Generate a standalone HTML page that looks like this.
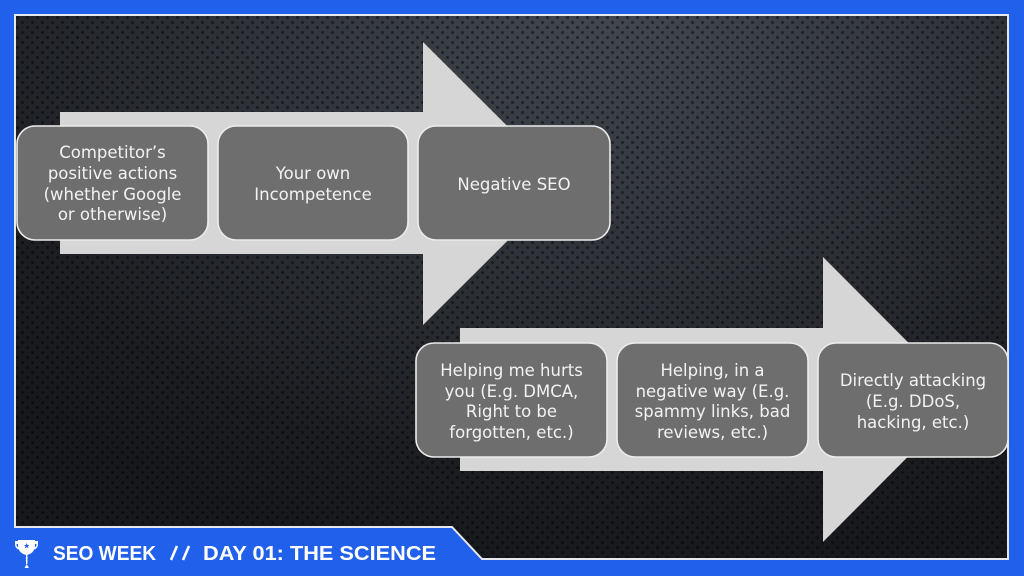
<!DOCTYPE html>
<html><head><meta charset="utf-8"><style>
html,body{margin:0;padding:0;width:1024px;height:576px;overflow:hidden;background:#2160ea;}
#bg{position:absolute;left:0;top:0;width:1024px;height:576px;
clip-path:polygon(15px 15px,1008px 15px,1008px 559px,482px 559px,452px 527px,15px 527px);
background:
radial-gradient(circle at 2.5px 2.5px, rgba(0,0,0,0.45) 0 1.3px, transparent 1.8px) 0 0/10px 10px,
radial-gradient(circle at 2.5px 2.5px, rgba(0,0,0,0.45) 0 1.3px, transparent 1.8px) 5px 5px/10px 10px,
radial-gradient(ellipse 80% 100% at 60% 0%, #43474f 0%, #363a41 30%, #282b30 60%, #1a1c20 85%, #16181b 100%);}
svg{position:absolute;left:0;top:0;}
</style></head><body>
<div id="bg"></div>
<svg width="1024" height="576" viewBox="0 0 1024 576" xmlns="http://www.w3.org/2000/svg">
<polygon points="15,15 1008,15 1008,559 482,559 452,527 15,527" fill="none" stroke="#e6e8ee" stroke-width="2"/>
<!-- arrows -->
<polygon points="60,112 423,112 423,42 565,183.5 423,325 423,254 60,254" fill="#d6d6d6"/>
<polygon points="460,328 823,328 823,257 965,399.5 823,542 823,471 460,471" fill="#d6d6d6"/>
<!-- boxes -->
<g fill="#6e6e6e" stroke="#ececec" stroke-width="1.6">
<rect x="17" y="126" width="191" height="114" rx="18"/>
<rect x="218" y="126" width="190" height="114" rx="18"/>
<rect x="418" y="126" width="192" height="114" rx="18"/>
<rect x="416" y="343" width="191" height="114" rx="18"/>
<rect x="617" y="343" width="191" height="114" rx="18"/>
<rect x="818" y="343" width="190" height="114" rx="18"/>
</g>
<g font-family="'DejaVu Sans', 'Liberation Sans', sans-serif" font-size="16.5" fill="#f2f2f2" text-anchor="middle">
<text x="112.5" y="158">Competitor’s</text>
<text x="112.5" y="179">positive actions</text>
<text x="112.5" y="200">(whether Google</text>
<text x="112.5" y="220">or otherwise)</text>
<text x="313" y="179">Your own</text>
<text x="313" y="200">Incompetence</text>
<text x="514" y="190">Negative SEO</text>
<text x="511.5" y="376">Helping me hurts</text>
<text x="511.5" y="397">you (E.g. DMCA,</text>
<text x="511.5" y="417">Right to be</text>
<text x="511.5" y="438">forgotten, etc.)</text>
<text x="712.5" y="376">Helping, in a</text>
<text x="712.5" y="397">negative way (E.g.</text>
<text x="712.5" y="417">spammy links, bad</text>
<text x="712.5" y="438">reviews, etc.)</text>
<text x="913" y="386">Directly attacking</text>
<text x="913" y="407">(E.g. DDoS,</text>
<text x="913" y="428">hacking, etc.)</text>
</g>
<!-- trophy -->
<g fill="#ffffff">
<path d="M18,540 L35,540 L35,545 Q35,553 27,555 L26,555 Q18,553 18,545 Z"/>
<path d="M15,541 L18,541 L18,544 L16.5,544 Q16.5,547 19,548 L19,549.5 Q15,548.5 15,544 Z"/>
<path d="M38,541 L35,541 L35,544 L36.5,544 Q36.5,547 34,548 L34,549.5 Q38,548.5 38,544 Z"/>
<rect x="26" y="555" width="1.4" height="9"/>
<circle cx="26.7" cy="558" r="1"/>
<circle cx="26.7" cy="561" r="1"/>
<path d="M24.5,568 L28.9,568 L26.7,564 Z"/>
</g>
<path d="M26.7,543 L27.5,545 L29.5,545 L27.9,546.3 L28.5,548.3 L26.7,547.1 L24.9,548.3 L25.5,546.3 L23.9,545 L25.9,545 Z" fill="#2160ea"/>
<g font-family="'Liberation Sans', sans-serif" font-weight="bold" font-size="20" fill="#ffffff">
<text x="53" y="560" textLength="103" lengthAdjust="spacingAndGlyphs">SEO WEEK</text>
<text x="203" y="560" textLength="233" lengthAdjust="spacingAndGlyphs">DAY 01: THE SCIENCE</text>
</g>
<g stroke="#ffffff" stroke-width="2.6">
<line x1="171" y1="560" x2="177" y2="546"/>
<line x1="183" y1="560" x2="189" y2="546"/>
</g>
</svg>
</body></html>
